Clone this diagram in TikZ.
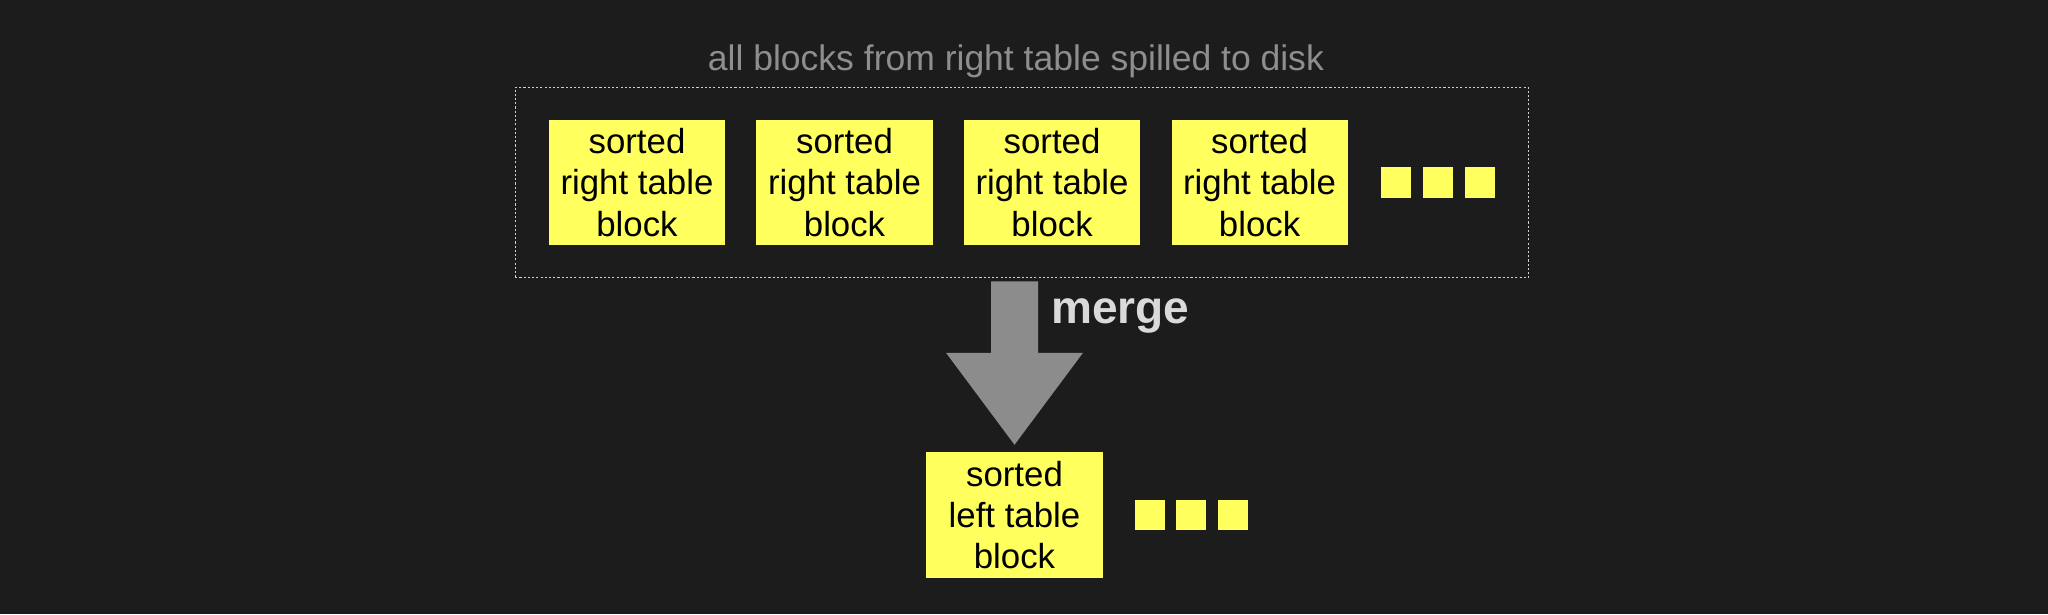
\documentclass[tikz,border=0pt]{standalone}
\usepackage{fontspec}
\setmainfont{Liberation Sans}
\usepackage{tikz}
\usetikzlibrary{positioning,calc,fit}

\definecolor{bgdark}{HTML}{1C1C1C}
\definecolor{blockyellow}{HTML}{FFFF5E}
\definecolor{mergegray}{HTML}{8C8C8C}
\definecolor{titlegray}{HTML}{8E8E8E}
\definecolor{mergetext}{HTML}{DADADA}
\definecolor{framegray}{HTML}{CFCFCF}

\begin{document}
\begin{tikzpicture}[x=0.01cm, y=0.01cm,
        block/.style={fill=blockyellow, text=black, minimum width=1.76cm, minimum height=1.25cm, inner sep=0pt, align=center, font=\fontsize{9.9}{11.7}\selectfont},
        dot/.style={fill=blockyellow, minimum size=0.3cm, inner sep=0pt}]
        \fill[bgdark] (0,0) rectangle (2048,614);
        \useasboundingbox (0,0) rectangle (2048,614);

        % right table blocks on disk
        \node[block] (r1) at (637,431.5) {sorted\\right table\\block};
        \node[block, right=0.3cm of r1] (r2) {sorted\\right table\\block};
        \node[block, right=0.3cm of r2] (r3) {sorted\\right table\\block};
        \node[block, right=0.3cm of r3] (r4) {sorted\\right table\\block};
        \node[dot, right=0.32cm of r4] (rd1) {};
        \node[dot, right=0.105cm of rd1] (rd2) {};
        \node[dot, right=0.105cm of rd2] (rd3) {};

        \node[draw=framegray, line width=0.3pt, dash pattern=on 0.6pt off 0.6pt, inner xsep=0.33cm, inner ysep=0.32cm, fit=(r1)(rd3)] (disk) {};
        \node[above=0.08cm of disk, xshift=-0.06cm, inner sep=0pt, text=titlegray, font=\fontsize{10.1}{12}\selectfont] (title) {all blocks from right table spilled to disk};

        % merged left table
        \node[block] (l1) at (1014.5,99) {sorted\\left table\\block};
        \node[dot, right=0.31cm of l1] (ld1) {};
        \node[dot, right=0.1cm of ld1] (ld2) {};
        \node[dot, right=0.1cm of ld2] (ld3) {};

        % merge arrow
        \coordinate (shafttop) at ($(l1.north |- disk.south)+(0,-3)$);
        \coordinate (tip) at ($(l1.north)+(0,7)$);
        \fill[mergegray] ($(shafttop)+(-23.5,0)$) -- ($(shafttop)+(23.5,0)$) -- ($(tip)+(23.5,92)$) -- ($(tip)+(68.5,92)$) -- (tip) -- ($(tip)+(-68.5,92)$) -- ($(tip)+(-23.5,92)$) -- cycle;
        \node[anchor=base west, inner sep=0pt, text=mergetext, font=\fontsize{13.1}{15}\selectfont\bfseries] (mergelbl) at ($(shafttop)+(36,-42)$) {merge};
    \end{tikzpicture}
\end{document}
